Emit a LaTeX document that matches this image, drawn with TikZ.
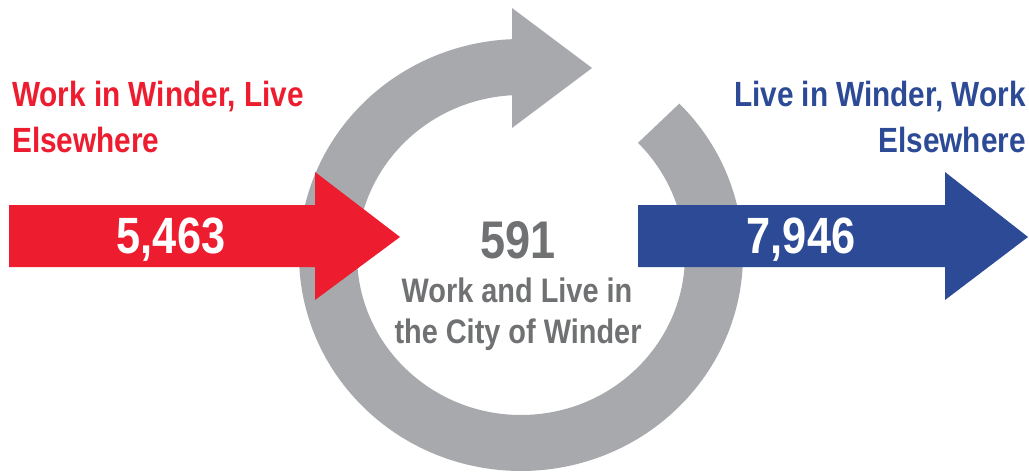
\documentclass[tikz,border=0pt]{standalone}
\usepackage{fontspec}
\setmainfont{Liberation Sans}[FakeStretch=0.85]
\usetikzlibrary{calc}
\definecolor{ringgray}{HTML}{A7A9AC}
\definecolor{txtgray}{HTML}{707173}
\definecolor{flowred}{HTML}{ED1C2E}
\definecolor{flowblue}{HTML}{2C4A96}
\begin{document}
\begin{tikzpicture}[x=1pt,y=1pt,
  title/.style={inner sep=0pt,font=\bfseries\fontsize{35}{46}\selectfont},
  bignum/.style={inner sep=0pt,text=white,font=\bfseries\fontsize{51}{60}\selectfont},
  midtext/.style={inner sep=0pt,text=txtgray,font=\bfseries\fontsize{34}{42}\selectfont}]
\useasboundingbox[fill=white] (0,0) rectangle (1029,475);
\coordinate (c) at (521,220);
% circular gray arrow
\fill[ringgray] ($(c)+(44.5:222pt and 216pt)$)
  arc[start angle=44.5, end angle=-267.7, x radius=222pt, y radius=216pt]
  -- (512,467) -- (592,407) -- (512,347)
  -- ($(c)+(93.1:164pt and 160pt)$)
  arc[start angle=93.1, end angle=404.5, x radius=164pt, y radius=160pt]
  -- cycle;
% red arrow
\fill[flowred] (9,270) -- (315,270) -- (315,303) -- (400,238) -- (315,175) -- (315,208) -- (9,208) -- cycle;
% blue arrow
\fill[flowblue] (638,270) -- (945,270) -- (945,303) -- (1028,238) -- (945,175) -- (945,208) -- (638,208) -- cycle;
% texts
\node[title,text=flowred,anchor=base west] (rt1) at (12,368) {Work in Winder, Live};
\node[title,text=flowred,anchor=base west] (rt2) at (12,322) {Elsewhere};
\node[title,text=flowblue,anchor=base east] (bt1) at (1026,368) {Live in Winder, Work};
\node[title,text=flowblue,anchor=base east] (bt2) at (1026,322) {Elsewhere};
\node[bignum,anchor=base] (rn) at (171,222) {5,463};
\node[bignum,anchor=base] (bn) at (801,222) {7,946};
\node[midtext,anchor=base,font=\bfseries\fontsize{53}{60}\selectfont] (mn) at (518,217) {591};
\node[midtext,anchor=base] (m1) at (517,173) {Work and Live in};
\node[midtext,anchor=base] (m2) at (518,132) {the City of Winder};
\end{tikzpicture}
\end{document}
